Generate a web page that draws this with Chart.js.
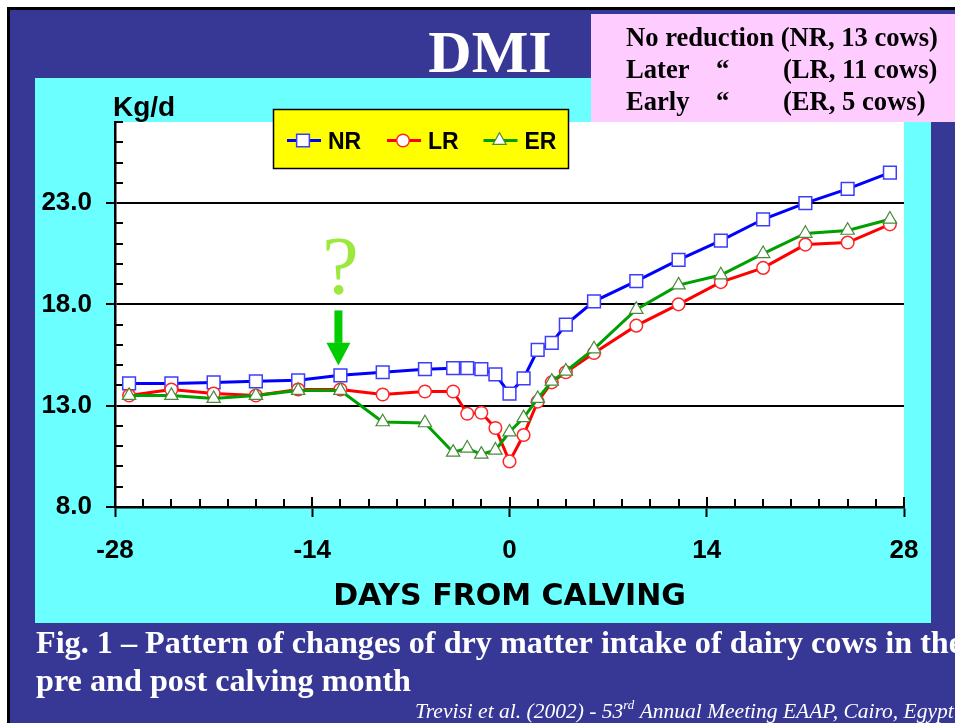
<!DOCTYPE html>
<html>
<head>
<meta charset="utf-8">
<title>DMI</title>
<script src="https://cdn.jsdelivr.net/npm/chart.js@4.4.1/dist/chart.umd.min.js"></script>
<style>
  html, body { margin: 0; padding: 0; background: #fff; overflow: hidden; }
  #wrap { width: 955px; height: 723px; position: relative; }
</style>
</head>
<body>
<div id="wrap"><canvas id="c" width="955" height="723"></canvas></div>
<script>
// Days from calving at which intake was recorded
const days = [-27, -24, -21, -18, -15, -12, -9, -6, -4, -3, -2, -1, 0, 1, 2, 3, 4, 6, 9, 12, 15, 18, 21, 24, 27];

// Dry matter intake, kg/d
const nrIntake = [14.1, 14.1, 14.15, 14.2, 14.25, 14.5, 14.65, 14.8, 14.85, 14.85, 14.8, 14.55, 13.6, 14.35, 15.75, 16.1, 17.0, 18.15, 19.15, 20.2, 21.15, 22.2, 23.0, 23.7, 24.5];
const lrIntake = [13.5, 13.8, 13.6, 13.5, 13.8, 13.8, 13.55, 13.7, 13.7, 12.6, 12.65, 11.9, 10.25, 11.55, 13.2, 14.15, 14.65, 15.6, 16.95, 18.0, 19.1, 19.8, 20.95, 21.05, 21.95];
const erIntake = [13.5, 13.5, 13.35, 13.5, 13.75, 13.75, 12.2, 12.15, 10.7, 10.9, 10.6, 10.8, 11.7, 12.4, 13.35, 14.2, 14.7, 15.8, 17.75, 18.95, 19.45, 20.5, 21.5, 21.65, 22.2];

const seriesLabels = ['NR', 'LR', 'ER'];

// Axis labelling
const xTickLabels = [-28, -14, 0, 14, 28];
const yTickLabels = [8, 13, 18, 23];
const yUnit = 'Kg/d';
const xTitle = 'DAYS FROM CALVING';
const chartTitle = 'DMI';
const groupNotes = [
  ['No reduction (NR, 13 cows)'],
  ['Later', '\u201C', '(LR, 11 cows)'],
  ['Early', '\u201C', '(ER, 5 cows)']
];
const captionLines = [
  'Fig. 1 \u2013 Pattern of changes of dry matter intake of dairy cows in the',
  'pre and post calving month'
];
const citation = ['Trevisi et al. (2002) - 53', 'rd', ' Annual Meeting EAAP, Cairo, Egypt'];
const markedDay = -12;

const SANS = "'Liberation Sans', Arial, sans-serif";
const SERIF = "'Liberation Serif', 'Times New Roman', serif";
const NAVY = '#373795';
const CYAN = '#6cffff';

function pts(vals) { return days.map((d, i) => ({ x: d, y: vals[i] })); }

function drawMarker(ctx, style, x, y, r, fill, stroke, lw) {
  ctx.save();
  ctx.beginPath();
  if (style === 'rect') {
    const s = Math.SQRT1_2 * r;
    ctx.rect(x - s, y - s, 2 * s, 2 * s);
  } else if (style === 'circle') {
    ctx.arc(x, y, r, 0, Math.PI * 2);
  } else if (style === 'triangle') {
    ctx.moveTo(x, y - r);
    ctx.lineTo(x + r * Math.sin(2 * Math.PI / 3), y + r / 2);
    ctx.lineTo(x - r * Math.sin(2 * Math.PI / 3), y + r / 2);
    ctx.closePath();
  }
  ctx.fillStyle = fill;
  ctx.fill();
  ctx.lineWidth = lw;
  ctx.strokeStyle = stroke;
  ctx.stroke();
  ctx.restore();
}

// Slide background, panels and frame
const backdrop = {
  id: 'backdrop',
  beforeDraw(chart) {
    const { ctx, chartArea: a } = chart;
    ctx.save();
    ctx.fillStyle = '#ffffff';
    ctx.fillRect(0, 0, 955, 723);
    ctx.fillStyle = '#000';
    ctx.fillRect(7, 7, 948, 716);
    ctx.fillStyle = NAVY;
    ctx.fillRect(10, 10, 945, 713);
    ctx.fillStyle = CYAN;
    ctx.fillRect(35, 78, 896, 545);
    ctx.fillStyle = '#ffffff';
    ctx.fillRect(a.left, a.top, a.right - a.left, a.bottom - a.top);
    // group description box
    ctx.fillStyle = '#ffccff';
    ctx.fillRect(591, 14, 370, 108);
    ctx.restore();
  }
};

// Minor tick marks pointing into the plot, and the inner half of the major day ticks
const innerTicks = {
  id: 'innerTicks',
  beforeDatasetsDraw(chart) {
    const { ctx, scales: { x, y }, chartArea: a } = chart;
    ctx.save();
    ctx.strokeStyle = '#000';
    ctx.lineWidth = 2;
    for (let v = 9; v <= 27; v++) {
      if (yTickLabels.includes(v)) continue;
      const py = Math.round(y.getPixelForValue(v));
      ctx.beginPath();
      ctx.moveTo(a.left, py);
      ctx.lineTo(a.left + 8, py);
      ctx.stroke();
    }
    for (let d = -26; d <= 28; d += 2) {
      const px = Math.round(x.getPixelForValue(d));
      const len = xTickLabels.includes(d) ? 10 : 8;
      ctx.beginPath();
      ctx.moveTo(px, a.bottom);
      ctx.lineTo(px, a.bottom - len);
      ctx.stroke();
    }
    ctx.restore();
  }
};

// Titles, legend, notes and caption
const decorations = {
  id: 'decorations',
  afterDraw(chart) {
    const { ctx, scales: { x, y } } = chart;
    ctx.save();
    ctx.textBaseline = 'alphabetic';

    // title
    ctx.fillStyle = '#ffffff';
    ctx.font = 'bold 60px ' + SERIF;
    ctx.textAlign = 'center';
    ctx.fillText(chartTitle, 490, 72);

    // group notes
    ctx.fillStyle = '#000';
    ctx.font = 'bold 26.6px ' + SERIF;
    ctx.textAlign = 'left';
    const cols = [626, 716, 783];
    groupNotes.forEach((row, i) => {
      const by = 46 + i * 32;
      row.forEach((t, j) => ctx.fillText(t, cols[j], by));
    });

    // unit label
    ctx.font = 'bold 28px ' + SANS;
    ctx.fillText(yUnit, 113, 116);

    // legend box
    ctx.fillStyle = '#ffff00';
    ctx.fillRect(273.5, 109.5, 295, 59);
    ctx.strokeStyle = '#000';
    ctx.lineWidth = 1.5;
    ctx.strokeRect(273.5, 109.5, 295, 59);
    const lx = [287, 387, 483.5];
    const ly = 140.5;
    chart.data.datasets.slice().sort((p, q) => seriesLabels.indexOf(p.label) - seriesLabels.indexOf(q.label)).forEach((ds, i) => {
      ctx.strokeStyle = ds.borderColor;
      ctx.lineWidth = 3;
      ctx.beginPath();
      ctx.moveTo(lx[i], ly);
      ctx.lineTo(lx[i] + 34, ly);
      ctx.stroke();
      drawMarker(ctx, ds.pointStyle, lx[i] + 16, ly, ds.pointRadius, '#fff', ds.pointBorderColor, ds.pointBorderWidth);
      ctx.fillStyle = '#000';
      ctx.font = 'bold 23px ' + SANS;
      ctx.textAlign = 'left';
      ctx.fillText(ds.label, lx[i] + 41, ly + 8.5);
    });

    // marker at the day when intake starts to split
    const mx = x.getPixelForValue(markedDay);
    ctx.fillStyle = '#9ce83c';
    ctx.font = '82px ' + SERIF;
    ctx.textAlign = 'center';
    ctx.fillText('?', mx, 293);
    ctx.fillStyle = '#00cc00';
    const top = y.getPixelForValue(17.7), neck = y.getPixelForValue(16.1), tip = y.getPixelForValue(14.98);
    ctx.fillRect(mx - 6, top, 8, neck - top);
    ctx.beginPath();
    ctx.moveTo(mx - 14, neck);
    ctx.lineTo(mx + 10, neck);
    ctx.lineTo(mx - 2, tip);
    ctx.closePath();
    ctx.fill();

    // caption
    ctx.fillStyle = '#ffffff';
    ctx.textAlign = 'left';
    ctx.font = 'bold 32.2px ' + SERIF;
    ctx.fillText(captionLines[0], 36, 653);
    ctx.fillText(captionLines[1], 36, 691);

    // reference
    ctx.font = 'italic 21.5px ' + SERIF;
    let cx = 415;
    ctx.fillText(citation[0], cx, 718);
    cx += ctx.measureText(citation[0]).width;
    ctx.font = 'italic 13px ' + SERIF;
    ctx.fillText(citation[1], cx, 709);
    cx += ctx.measureText(citation[1]).width;
    ctx.font = 'italic 21.5px ' + SERIF;
    ctx.fillText(citation[2], cx, 718);
    ctx.restore();
  }
};

const majorX = ctx => ctx.tick && xTickLabels.includes(ctx.tick.value);
const majorY = ctx => ctx.tick && yTickLabels.includes(ctx.tick.value);

new Chart(document.getElementById('c'), {
  type: 'line',
  data: {
    datasets: [
      {
        label: seriesLabels[0], data: pts(nrIntake), order: 3,
        borderColor: '#0000ff', borderWidth: 3,
        pointStyle: 'rect', pointRadius: 9, pointBackgroundColor: '#ffffff',
        pointBorderColor: '#3c3cff', pointBorderWidth: 1.5
      },
      {
        label: seriesLabels[1], data: pts(lrIntake), order: 2,
        borderColor: '#ff0000', borderWidth: 3,
        pointStyle: 'circle', pointRadius: 6.3, pointBackgroundColor: '#ffffff',
        pointBorderColor: '#ff2626', pointBorderWidth: 1.5
      },
      {
        label: seriesLabels[2], data: pts(erIntake), order: 1,
        borderColor: '#00a000', borderWidth: 3,
        pointStyle: 'triangle', pointRadius: 7.7, pointBackgroundColor: '#ffffff',
        pointBorderColor: '#4a8a3a', pointBorderWidth: 1.2
      }
    ]
  },
  options: {
    responsive: false,
    animation: false,
    devicePixelRatio: 1,
    layout: { padding: { left: 35, right: 51, top: 122, bottom: 101 } },
    plugins: { legend: { display: false }, tooltip: { enabled: false } },
    elements: { line: { tension: 0 } },
    scales: {
      x: {
        type: 'linear', min: -28, max: 28,
        afterFit(s) { s.height = 115; },
        ticks: {
          stepSize: 2, autoSkip: false, maxRotation: 0, padding: 18,
          color: '#000', font: { family: SANS, size: 26, weight: 'bold' },
          callback: v => xTickLabels.includes(v) ? String(v) : ''
        },
        grid: {
          drawOnChartArea: false, drawTicks: true, tickLength: 10, tickWidth: 2,
          tickColor: ctx => majorX(ctx) ? '#000' : 'rgba(0,0,0,0)'
        },
        border: { display: true, color: '#000', width: 2.5 },
        title: {
          display: true, text: xTitle, color: '#000',
          font: { family: "'DejaVu Sans', sans-serif", size: 30, weight: 'bold' },
          padding: { top: 0, bottom: 7 }
        }
      },
      y: {
        min: 8, max: 27,
        afterFit(s) { s.width = 80; },
        ticks: {
          stepSize: 1, autoSkip: false, padding: 14,
          color: '#000', font: { family: SANS, size: 26, weight: 'bold' },
          callback: v => yTickLabels.includes(v) ? v.toFixed(1) : ''
        },
        grid: {
          drawTicks: true, tickLength: 9, tickWidth: 2, lineWidth: 2,
          color: ctx => majorY(ctx) ? '#000' : 'rgba(0,0,0,0)',
          tickColor: ctx => majorY(ctx) ? '#000' : 'rgba(0,0,0,0)'
        },
        border: { display: true, color: '#000', width: 2.5 }
      }
    }
  },
  plugins: [backdrop, innerTicks, decorations]
});
</script>
</body>
</html>
